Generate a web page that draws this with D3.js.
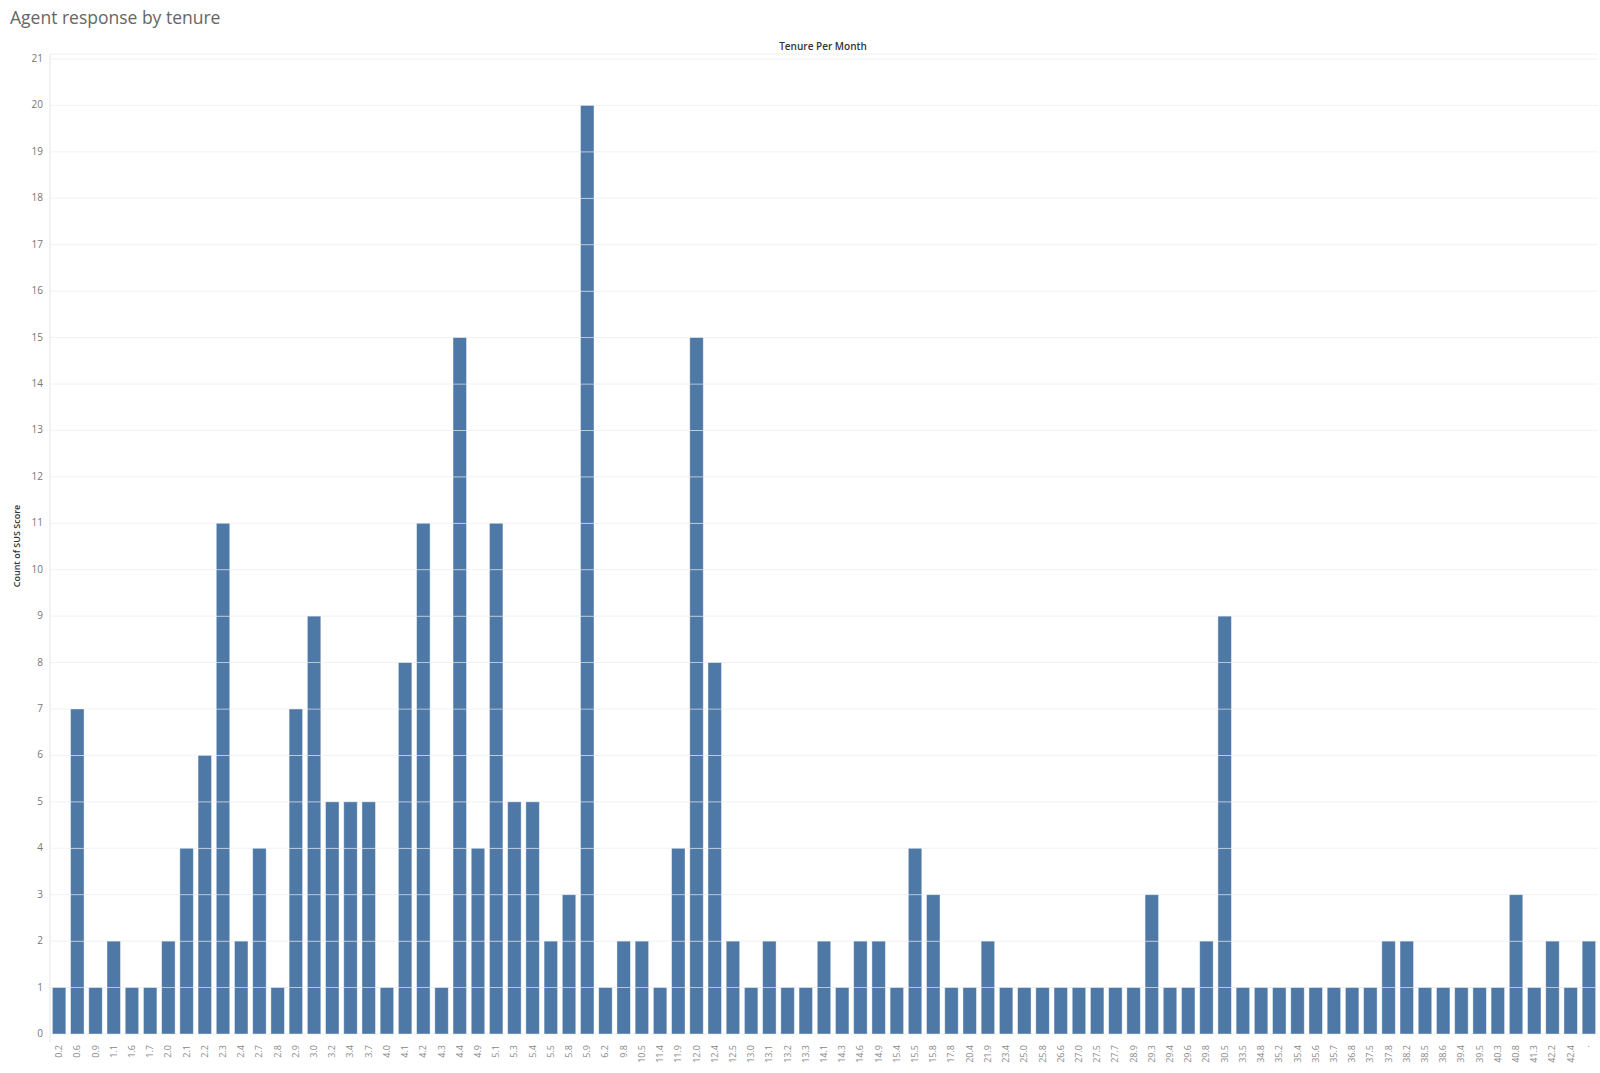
<!DOCTYPE html>
<meta charset="utf-8">
<style>
  body { margin: 0; background: #fff; font-family: "Open Sans", "Noto Sans", sans-serif; }
</style>
<svg id="chart" width="1600" height="1073"></svg>
<script src="https://d3js.org/d3.v7.min.js"></script>
<script>
// tenure categories (months) and count of SUS score
var tenure = ["0.2","0.6","0.9","1.1","1.6","1.7","2.0","2.1","2.2","2.3","2.4","2.7","2.8","2.9","3.0","3.2","3.4","3.7","4.0","4.1","4.2","4.3","4.4","4.9","5.1","5.3","5.4","5.5","5.8","5.9","6.2","9.8","10.5","11.4","11.9","12.0","12.4","12.5","13.0","13.1","13.2","13.3","14.1","14.3","14.6","14.9","15.4","15.5","15.8","17.8","20.4","21.9","23.4","25.0","25.8","26.6","27.0","27.5","27.7","28.9","29.3","29.4","29.6","29.8","30.5","33.5","34.8","35.2","35.4","35.6","35.7","36.8","37.5","37.8","38.2","38.5","38.6","39.4","39.5","40.3","40.8","41.3","42.2","42.4","·"]
var counts = [1,7,1,2,1,1,2,4,6,11,2,4,1,7,9,5,5,5,1,8,11,1,15,4,11,5,5,2,3,20,1,2,2,1,4,15,8,2,1,2,1,1,2,1,2,2,1,4,3,1,1,2,1,1,1,1,1,1,1,1,3,1,1,2,9,1,1,1,1,1,1,1,1,2,2,1,1,1,1,1,3,1,2,1,2]
var yTicks = d3.range(0, 22)

var svg = d3.select("#chart")

var x = d3.scaleBand().domain(tenure).range([50, 1598]).paddingInner(0.26).paddingOuter(0.13)
var y = d3.scaleLinear().domain([0, 21]).range([1034, 59])

// gridlines
svg.append("g").selectAll("line").data(yTicks).join("line")
  .attr("x1", 50).attr("x2", 1598)
  .attr("y1", d => y(d)).attr("y2", d => y(d))
  .attr("stroke", "#f2f2f2")

svg.append("line").attr("x1", 50).attr("x2", 50).attr("y1", 54).attr("y2", 1042).attr("stroke", "#e6e6e6")
svg.append("line").attr("x1", 50).attr("x2", 1598).attr("y1", 54).attr("y2", 54).attr("stroke", "#f0f0f0")

// bars, drawn as stacked unit segments
var data = tenure.map((t, i) => ({ t: t, v: counts[i] }))
var seg = []
data.forEach(d => { for (var k = 0; k < d.v; k++) seg.push({ t: d.t, k: k }) })
svg.append("g").selectAll("rect").data(seg).join("rect")
  .attr("x", d => x(d.t))
  .attr("width", x.bandwidth())
  .attr("y", d => y(d.k + 1))
  .attr("height", d => y(d.k) - y(d.k + 1))
  .attr("fill", "#4e79a7")
  .attr("stroke", "#ffffff")
  .attr("stroke-opacity", 0.5)
  .attr("stroke-width", 0.8)

// y axis labels
svg.append("g").selectAll("text").data(yTicks).join("text")
  .attr("x", 43).attr("y", d => y(d) + 3)
  .attr("text-anchor", "end")
  .style("font-size", "10px").attr("fill", "#777")
  .text(d => d)

// x axis labels
svg.append("g").selectAll("text").data(tenure).join("text")
  .attr("transform", d => "translate(" + (x(d) + x.bandwidth() / 2 + 3) + ",1045) rotate(-90)")
  .attr("text-anchor", "end")
  .style("font-size", "9px").attr("fill", "#888")
  .text(d => d)

svg.append("text").attr("x", 10).attr("y", 24)
  .style("font-size", "17.5px").attr("fill", "#666")
  .text("Agent response by tenure")

svg.append("text").attr("x", 823).attr("y", 50).attr("text-anchor", "middle")
  .style("font-size", "10px").style("font-weight", "600").attr("fill", "#333")
  .text("Tenure Per Month")

svg.append("text").attr("transform", "translate(20,546) rotate(-90)").attr("text-anchor", "middle")
  .style("font-size", "9px").style("font-weight", "600").attr("fill", "#333")
  .text("Count of SUS Score")
</script>
